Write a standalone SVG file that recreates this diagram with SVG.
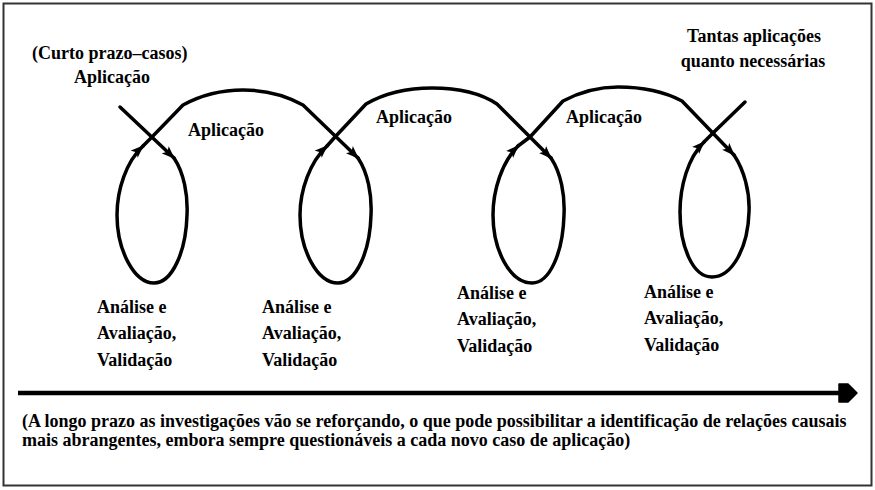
<svg xmlns="http://www.w3.org/2000/svg" width="875" height="490" viewBox="0 0 875 490">
<defs>
<style>
text{font-family:'Liberation Serif','Times New Roman','DejaVu Serif',serif;font-weight:bold;fill:#000}
.t{font-size:18px}
.b{font-size:18px}
.c{fill:none;stroke:#000;stroke-width:3.5;stroke-linejoin:round;stroke-linecap:round}
</style>
<marker id="ah" markerUnits="userSpaceOnUse" markerWidth="13" markerHeight="11" refX="12" refY="5.5" orient="auto">
<path d="M0,0.5 L13,5.5 L0,10.5 L3,5.5 z" fill="#000"/>
</marker>
</defs>
<rect x="3.5" y="3.5" width="868" height="482" fill="#fff" stroke="#333" stroke-width="2"/>

<g id="connectors">
<path class="c" d="M120,107 L174,158" marker-end="url(#ah)"/>
<path class="c" d="M174,158 C184,173 188,195 187,215 C186,252 172,283 154,283 C134,283 117,250 117,215 C117,190 126,162 143,146" marker-end="url(#ah)"/>
<path class="c" d="M143,146 L152,137 L183,105 C205,93 225,90 243,90 C265,90 285,95 303,105 L358,158" marker-end="url(#ah)"/>
<path class="c" d="M358,158 C368,173 372,195 371,215 C370,252 356,283 338,283 C317,283 300,250 300,215 C300,190 310,162 327,146" marker-end="url(#ah)"/>
<path class="c" d="M327,146 L335,137 L366,104 C385,93 410,88 432,88 C460,88 482,94 497,104 L551,158" marker-end="url(#ah)"/>
<path class="c" d="M551,158 C561,173 565,195 564,215 C563,252 550,283 532,283 C510,283 493,250 493,215 C493,190 502,162 518,146" marker-end="url(#ah)"/>
<path class="c" d="M518,146 L530,137 L563,101 C580,92 600,87 618,87 C645,87 665,92 682,101 L734,155" marker-end="url(#ah)"/>
<path class="c" d="M734,155 C744,170 750,192 749,212 C748,248 732,277 712,277 C692,277 680,245 680,212 C680,186 688,158 704,142" marker-end="url(#ah)"/>
<path class="c" d="M704,142 L713,133 L745,102"/>
<line x1="18" y1="393" x2="842" y2="393" stroke="#000" stroke-width="4.5"/>
<polygon points="839,384 848,384 857,393 848,402 839,402" fill="#000" stroke="#000" stroke-width="1.5" stroke-linejoin="round"/>
</g>

<g id="label-start">
<text class="t" x="32" y="59">(Curto prazo–casos)</text>
<text class="t" x="74" y="83">Aplicação</text>
</g>
<g id="label-app2"><text class="t" x="188" y="136">Aplicação</text></g>
<g id="label-app3"><text class="t" x="376" y="123">Aplicação</text></g>
<g id="label-app4"><text class="t" x="566" y="123">Aplicação</text></g>
<g id="label-end">
<text class="t" x="754" y="42" text-anchor="middle">Tantas aplicações</text>
<text class="t" x="753" y="67" text-anchor="middle">quanto necessárias</text>
</g>
<g id="node1">
<text class="t" x="97" y="313">Análise e</text>
<text class="t" x="97" y="339">Avaliação,</text>
<text class="t" x="97" y="366">Validação</text>
</g>
<g id="node2">
<text class="t" x="262" y="313">Análise e</text>
<text class="t" x="262" y="339">Avaliação,</text>
<text class="t" x="262" y="366">Validação</text>
</g>
<g id="node3">
<text class="t" x="457" y="299">Análise e</text>
<text class="t" x="457" y="325">Avaliação,</text>
<text class="t" x="457" y="352">Validação</text>
</g>
<g id="node4">
<text class="t" x="644" y="298">Análise e</text>
<text class="t" x="644" y="324">Avaliação,</text>
<text class="t" x="644" y="351">Validação</text>
</g>
<g id="caption">
<text class="b" x="22" y="427">(A longo prazo as investigações vão se reforçando, o que pode possibilitar a identificação de relações causais</text>
<text class="b" x="22" y="446">mais abrangentes, embora sempre questionáveis a cada novo caso de aplicação)</text>
</g>
</svg>
